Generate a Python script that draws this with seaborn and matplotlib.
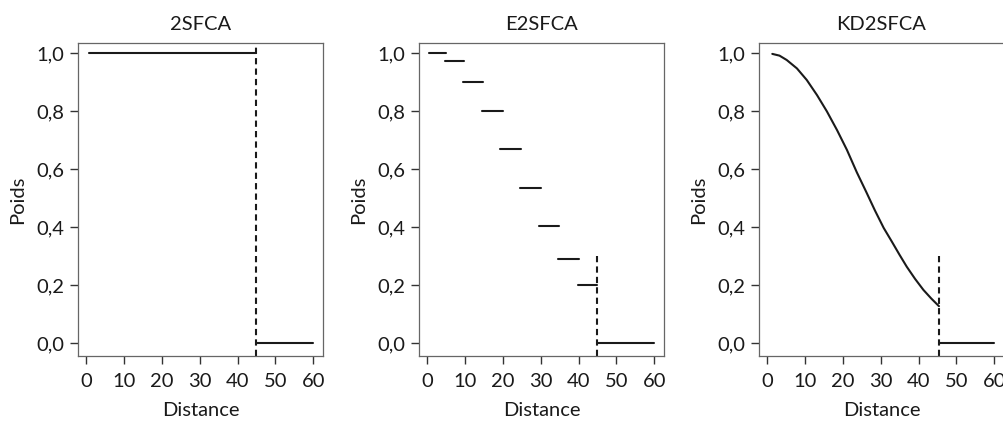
import numpy as np
import pandas as pd
import matplotlib
matplotlib.use("Agg")
import matplotlib.pyplot as plt
import seaborn as sns

# donnees
titres = ["2SFCA", "E2SFCA", "KD2SFCA"]
seuils = [45, 45, 45.4]
haut_tirets = [None, 0.3, 0.3]   # None = sur toute la hauteur

# 2SFCA : poids constant jusqu'au seuil
x_2sfca = [0.9, 45]
y_2sfca = [1.0, 1.0]

# E2SFCA : paliers
e2_debut = [0.6, 4.8, 9.6, 14.6, 19.4, 24.6, 29.5, 34.6, 39.9]
e2_fin = [4.9, 9.8, 14.9, 20.1, 24.9, 30.0, 34.9, 40.1, 45.0]
e2_poids = [1.0, 0.975, 0.902, 0.80, 0.67, 0.535, 0.405, 0.292, 0.20]

# KD2SFCA : courbe noyau
kd_x = [1.4, 3.3, 5.2, 7.9, 10.5, 13.2, 15.8, 18.5, 21.1, 23.7, 26.2, 28.5,
        30.8, 32.9, 35.0, 36.9, 39.1, 41.3, 43.4, 45.4]
kd_y = [0.998, 0.992, 0.977, 0.948, 0.908, 0.856, 0.800, 0.735, 0.667, 0.590,
        0.522, 0.458, 0.398, 0.352, 0.305, 0.264, 0.222, 0.184, 0.154, 0.128]

# au-dela du seuil : poids nul
x_fin = 60

sns.set_theme(style="ticks")
plt.rcParams["font.family"] = ["Lato", "DejaVu Sans"]


def segments(panel):
    lignes = []
    if panel == 0:
        lignes.append(pd.DataFrame({"x": x_2sfca, "y": y_2sfca, "seg": 0}))
    elif panel == 1:
        for i, (a, b, p) in enumerate(zip(e2_debut, e2_fin, e2_poids)):
            lignes.append(pd.DataFrame({"x": [a, b], "y": [p, p], "seg": i}))
    else:
        lignes.append(pd.DataFrame({"x": kd_x, "y": kd_y, "seg": 0}))
    lignes.append(pd.DataFrame({"x": [seuils[panel], x_fin], "y": [0.0, 0.0], "seg": 99}))
    return pd.concat(lignes, ignore_index=True)


fig = plt.figure(figsize=(10.04, 4.21), dpi=100)
gauches = [78, 419, 759]
W, H = 1004, 421
ylim = (-0.0438, 1.0366)
fs = 14.5

for k, g in enumerate(gauches):
    ax = fig.add_axes([g / W, (H - 356) / H, 245 / W, (356 - 42.7) / H])
    df = segments(k)
    sns.lineplot(data=df, x="x", y="y", units="seg", estimator=None,
                 color="#1a1a1a", linewidth=1.5, ax=ax, sort=False)
    ax.set_xlim(-2.11, 62.57)
    ax.set_ylim(*ylim)
    top = ylim[1] if haut_tirets[k] is None else haut_tirets[k]
    ax.vlines(seuils[k], ylim[0], top, colors="#1a1a1a", linestyles=(0, (3, 2)),
              linewidth=1.5)
    ax.set_xticks(range(0, 61, 10))
    ax.set_yticks(np.arange(0, 1.01, 0.2))
    ax.set_yticklabels([f"{v:.1f}".replace(".", ",") for v in np.arange(0, 1.01, 0.2)])
    ax.tick_params(labelsize=fs, length=6, width=1.0, color="#333333",
                   labelcolor="#1a1a1a", direction="out", pad=4)
    ax.tick_params(axis="x", pad=6)
    for s in ax.spines.values():
        s.set_visible(True)
        s.set_color("#666666")
        s.set_linewidth(0.9)
    ax.set_title(titres[k], fontsize=fs, pad=9, color="#1a1a1a")
    ax.set_xlabel("Distance", fontsize=fs, labelpad=9, color="#1a1a1a")
    ax.set_ylabel("Poids", fontsize=fs, labelpad=7, color="#1a1a1a")

fig.savefig("out.png", dpi=100)
